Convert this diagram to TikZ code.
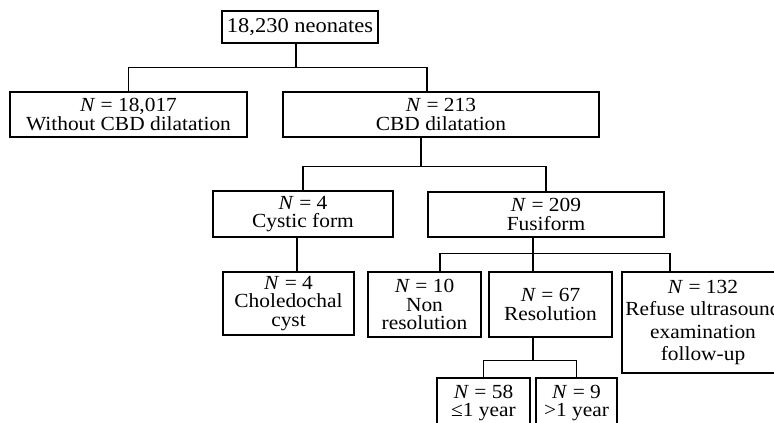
\documentclass[tikz,border=0pt]{standalone}
\usepackage{fontspec}
\setmainfont{Liberation Serif}[FakeStretch=1.07]

\begin{document}
\begin{tikzpicture}[
    x=1pt, y=-1pt,
    box/.style={rectangle, draw, line width=1.1pt, inner sep=0pt, align=center, font=\fontsize{20}{18.5}\selectfont},
    link/.style={line width=1.1pt},
]
    \clip (0,0) rectangle (774,423);
    \node[box, minimum width=156pt, minimum height=32pt, font=\fontsize{21}{22}\selectfont] (neonates) at (300,27) {18,230 neonates};

    \node[box, minimum width=237pt, minimum height=45pt] (without) at (128.5,114.5) {\textit{N} = 18,017\\Without CBD dilatation};
    \node[box, minimum width=316pt, minimum height=45pt] (cbd) at (441,114.5) {\textit{N} = 213\\CBD dilatation};

    \node[box, minimum width=180pt, minimum height=46pt] (cystic) at (303,214) {\textit{N} = 4\\Cystic form};
    \node[box, minimum width=236pt, minimum height=45pt] (fusiform) at (546,214.5) {\textit{N} = 209\\Fusiform};

    \node[box, minimum width=131pt, minimum height=63pt] (choledochal) at (288.5,303.5) {\textit{N} = 4\\Choledochal\\cyst};
    \node[box, minimum width=113pt, minimum height=65pt] (nonres) at (424.5,304.5) {\textit{N} = 10\\Non\\resolution};
    \node[box, minimum width=123pt, minimum height=65pt] (resol) at (550.5,304.5) {\textit{N} = 67\\Resolution};
    \node[box, minimum width=162pt, minimum height=101pt, font=\fontsize{20}{22.5}\selectfont] (refuse) at (703,322.5) {\textit{N} = 132\\Refuse ultrasound\\examination\\follow-up};

    \node[box, minimum width=93pt, minimum height=50pt] (under) at (483.5,403) {\textit{N} = 58\\≤1 year};
    \node[box, minimum width=81pt, minimum height=50pt] (over) at (576.5,403) {\textit{N} = 9\\>1 year};

    % first split
    \draw[link] ([xshift=-4pt]neonates.south) -- ++(0,24) -| (without.north);
    \draw[link] ([xshift=-4pt]neonates.south) -- ++(0,24) -| ([xshift=-14pt]cbd.north);
    % type of dilatation
    \draw[link] ([xshift=-20pt]cbd.south) -- ++(0,29) -| (cystic.north);
    \draw[link] ([xshift=-20pt]cbd.south) -- ++(0,29) -| (fusiform.north);
    \draw[link] ([xshift=-6pt]cystic.south) -- ([xshift=8.5pt]choledochal.north);
    % fusiform outcome
    \draw[link] ([xshift=-13pt]fusiform.south) -- ++(0,16) -| ([xshift=15.5pt]nonres.north);
    \draw[link] ([xshift=-13pt]fusiform.south) -- ++(0,16) -| ([xshift=-17.5pt]resol.north);
    \draw[link] ([xshift=-13pt]fusiform.south) -- ++(0,16) -| ([xshift=-33pt]refuse.north);
    \draw[link] ([xshift=-17.5pt]resol.south) -- ++(0,23) -| (under.north);
    \draw[link] ([xshift=-17.5pt]resol.south) -- ++(0,23) -| (over.north);
\end{tikzpicture}
\end{document}
